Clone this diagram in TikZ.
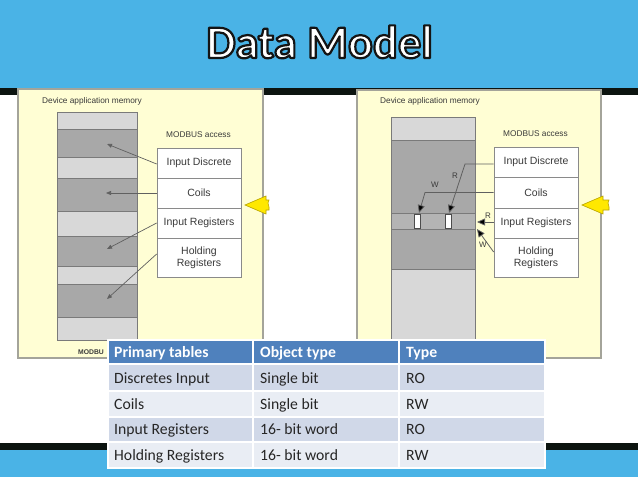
\documentclass[tikz,border=0pt]{standalone}
\usepackage{fontspec}
\setmainfont{Liberation Sans}
\newfontfamily\calfont{Carlito}
\usetikzlibrary{arrows.meta}
\definecolor{bandblue}{HTML}{4AB3E6}
\definecolor{stripblack}{HTML}{0C1410}
\definecolor{panelfill}{HTML}{FFFED4}
\definecolor{panelline}{HTML}{A4A49A}
\definecolor{memlight}{HTML}{D8D8D8}
\definecolor{memdark}{HTML}{A8A8A8}
\definecolor{memmid}{HTML}{B4B4B4}
\definecolor{memline}{HTML}{7A7A7A}
\definecolor{boxline}{HTML}{8A8A8A}
\definecolor{arrline}{HTML}{606060}
\definecolor{yarrow}{HTML}{FFE800}
\definecolor{yarrowline}{HTML}{B9A400}
\definecolor{thead}{HTML}{4F81BD}
\definecolor{trowdark}{HTML}{D0D8E8}
\definecolor{trowlight}{HTML}{E9EDF4}
\definecolor{paneltext}{HTML}{3A3A3A}
\newcommand{\outlinedtext}[1]{\special{pdf:literal direct 2 Tr 2.2 w 1 j 0.08 0.08 0.08 RG}#1\special{pdf:literal direct 0 Tr}}
\tikzset{
  panel/.style={fill=panelfill, draw=panelline, line width=1.2pt},
  membox/.style={draw=memline, line width=0.6pt},
  accbox/.style={draw=boxline, fill=white, line width=0.7pt, minimum width=84pt,
    font=\fontsize{10.5}{12}\selectfont, text=paneltext, align=center, inner sep=0pt},
  smalllabel/.style={font=\fontsize{8.3}{10}\selectfont, text=paneltext, inner sep=0pt},
  rwlabel/.style={font=\fontsize{8}{9}\selectfont, text=paneltext, inner sep=0pt},
  smallarrow/.style={draw=arrline, line width=0.7pt, -{Triangle[length=5pt,width=4pt]}},
  bigarrow/.style={draw=arrline, line width=0.8pt, -{Triangle[length=8pt,width=7pt,fill=black]}},
  yellowarrow/.style={fill=yarrow, draw=yarrowline, line width=0.6pt},
  headcell/.style={fill=thead, draw=white, line width=1.5pt},
  darkcell/.style={fill=trowdark, draw=white, line width=1.5pt},
  lightcell/.style={fill=trowlight, draw=white, line width=1.5pt},
  headtext/.style={anchor=base west, inner sep=0pt, text=white, font=\calfont\bfseries\fontsize{15.7}{18}\selectfont},
  celltext/.style={anchor=base west, inner sep=0pt, text=black!85, font=\calfont\fontsize{15.7}{18}\selectfont},
  titletext/.style={anchor=base, inner sep=0pt, text=white, font=\calfont\bfseries\fontsize{46.5}{50}\selectfont}
}
\begin{document}
\begin{tikzpicture}[x=1pt,y=-1pt]
\useasboundingbox (0,0) rectangle (638,479);
\fill[white] (0,0) rectangle (638,479);
% bands
\fill[bandblue] (0,0) rectangle (638,88);
\fill[stripblack] (0,88) rectangle (638,95);
\fill[stripblack] (0,443) rectangle (638,450);
\fill[bandblue] (0,450) rectangle (638,477);
% title with outline
\node[titletext] (title) at (319.5,58) {\outlinedtext{Data Model}};

% ---------- left panel ----------
\draw[panel] (18,89) rectangle (263,358);
\node[smalllabel, anchor=west] (ldam) at (42,101) {Device application memory};
\fill[memlight] (57,112) rectangle (137,340);
\foreach \a/\b in {129/157,178/211,236/266,284/317}
  \draw[membox, fill=memdark] (57,\a) rectangle (137,\b);
\draw[membox] (57,112) rectangle (137,340);
\node[smalllabel] (lma) at (198.5,135) {MODBUS access};
\node[accbox, minimum height=30pt] (lid) at (199,163) {Input Discrete};
\node[accbox, minimum height=30pt] (lco) at (199,193) {Coils};
\node[accbox, minimum height=30pt] (lir) at (199,223) {Input Registers};
\node[accbox, minimum height=39pt] (lhr) at (199,257.5) {Holding\\Registers};
\coordinate (lt1) at (107,144);
\coordinate (lt2) at (106,193);
\coordinate (lt3) at (107,249);
\coordinate (lt4) at (107,299);
\draw[smallarrow] ([yshift=-1pt]lid.west) -- (lt1);
\draw[smallarrow] (lco.west) -- (lt2);
\draw[smallarrow] (lir.west) -- (lt3);
\draw[smallarrow] ([yshift=3.5pt]lhr.west) -- (lt4);
\node[font=\bfseries\fontsize{6.8}{8}\selectfont, text=paneltext, anchor=west, inner sep=0pt] (lmodbu) at (78,352) {MODBU};
\draw[yellowarrow] (245,205) -- (266,196) -- (266,200) -- (269,200) -- (268,203) -- (269,207) -- (269,210) -- (266,210) -- (266,214) -- cycle;

% ---------- right panel ----------
\draw[panel] (357,90) rectangle (601,358);
\node[smalllabel, anchor=west] (rdam) at (380,101) {Device application memory};
\fill[memlight] (391,117) rectangle (475,345);
\draw[membox, fill=memdark] (391,140) rectangle (475,269);
\draw[membox, fill=memmid] (391,213) rectangle (475,229);
\draw[membox] (391,117) rectangle (475,345);
\draw[fill=white, draw=black!70, line width=0.5pt] (414,214) rectangle (420,228);
\draw[fill=white, draw=black!70, line width=0.5pt] (445,214) rectangle (451,228);
\node[smalllabel] (rma) at (535.5,134) {MODBUS access};
\node[accbox, minimum height=30pt] (rid) at (536,162) {Input Discrete};
\node[accbox, minimum height=31pt] (rco) at (536,192.5) {Coils};
\node[accbox, minimum height=30pt] (rir) at (536,223) {Input Registers};
\node[accbox, minimum height=39pt] (rhr) at (536,257.5) {Holding\\Registers};
\coordinate (rb1) at (465,164);
\coordinate (rt1) at (449,213);
\coordinate (rb2) at (425,192.5);
\coordinate (rt2) at (419,213);
\coordinate (rt3) at (477,222);
\coordinate (rt4) at (477,229);
\draw[bigarrow] ([yshift=-2pt]rid.west) -- (rb1) -- (rt1);
\draw[bigarrow] (rco.west) -- (rb2) -- (rt2);
\draw[bigarrow] ([yshift=1pt]rir.west) -- (rt3);
\draw[bigarrow] ([yshift=5.5pt]rhr.west) -- (rt4);
\node[rwlabel] (lr1) at (455,176) {R};
\node[rwlabel] (lw1) at (435,185) {W};
\node[rwlabel] (lr2) at (488,216) {R};
\node[rwlabel] (lw2) at (483,245) {W};
\draw[yellowarrow] (582,205) -- (603,196) -- (603,200) -- (609,200) -- (608,203) -- (609,207) -- (609,210) -- (603,210) -- (603,214) -- cycle;

% ---------- table ----------
\draw[headcell] (108,340) rectangle (253,364);
\draw[headcell] (253,340) rectangle (399,364);
\draw[headcell] (399,340) rectangle (545,364);
\foreach \a/\b/\s in {364/391/darkcell,391/417/lightcell,417/442/darkcell,442/468/lightcell}{
  \draw[\s] (108,\a) rectangle (253,\b);
  \draw[\s] (253,\a) rectangle (399,\b);
  \draw[\s] (399,\a) rectangle (545,\b);
}
\node[headtext] (h1) at (114,357.5) {Primary tables};
\node[headtext] (h2) at (260,357.5) {Object type};
\node[headtext] (h3) at (406,357.5) {Type};
\node[celltext] (a1) at (114,383) {Discretes Input};
\node[celltext] (b1) at (260,383) {Single bit};
\node[celltext] (c1) at (406,383) {RO};
\node[celltext] (a2) at (114,409) {Coils};
\node[celltext] (b2) at (260,409) {Single bit};
\node[celltext] (c2) at (406,409) {RW};
\node[celltext] (a3) at (114,434.5) {Input Registers};
\node[celltext] (b3) at (260,434.5) {16- bit word};
\node[celltext] (c3) at (406,434.5) {RO};
\node[celltext] (a4) at (114,460) {Holding Registers};
\node[celltext] (b4) at (260,460) {16- bit word};
\node[celltext] (c4) at (406,460) {RW};
\end{tikzpicture}
\end{document}
